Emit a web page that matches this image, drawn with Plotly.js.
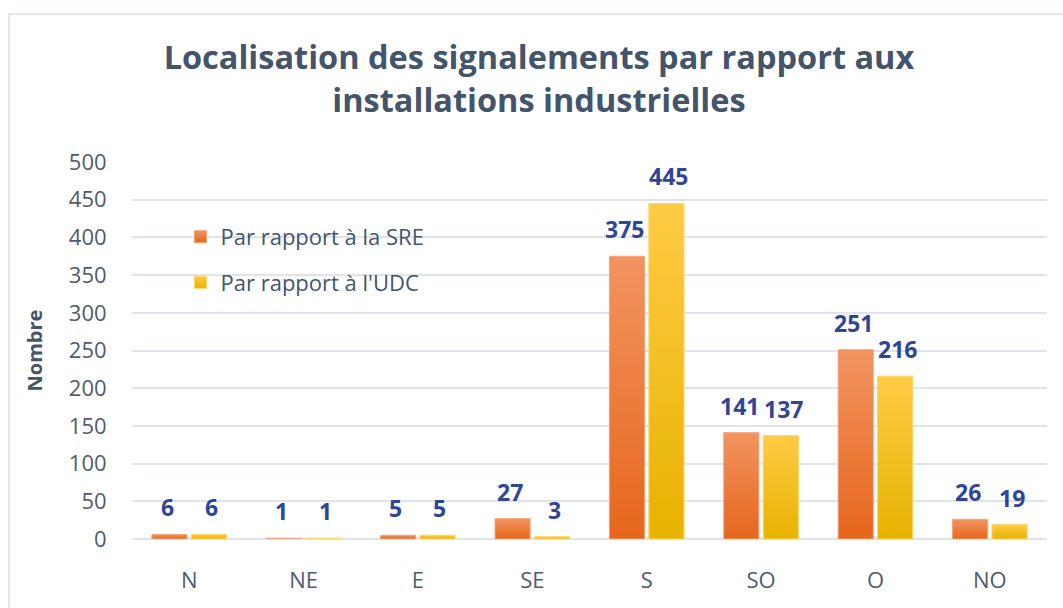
<!DOCTYPE html>
<html>
<head>
<meta charset="utf-8">
<script src="https://cdn.plot.ly/plotly-3.0.1.min.js"></script>
<style>
  html, body { margin: 0; padding: 0; background: #fff; }
  #wrap { position: relative; width: 1063px; height: 608px; overflow: hidden; }
  #chart { width: 1063px; height: 608px; }
  #frame { position: absolute; left: 8px; top: 13px; width: 1100px; height: 700px;
           border: 2px solid #E3E7EE; pointer-events: none; }
</style>
</head>
<body>
<div id="wrap">
  <div id="chart"></div>
  <div id="frame"></div>
</div>
<script>
// Localisation des signalements — bar chart by direction
const directions = ['N', 'NE', 'E', 'SE', 'S', 'SO', 'O', 'NO'];
const sreCounts = [6, 1, 5, 27, 375, 141, 251, 26];
const udcCounts = [6, 1, 5, 3, 445, 137, 216, 19];
const seriesNames = ['Par rapport à la SRE', "Par rapport à l'UDC"];

const FONT = '"Open Sans", "Noto Sans", sans-serif';
const SLATE = '#44546A';
const LABEL = '#2F4596';
const TICK = '#4F5B6E';
// top / bottom colours of the bar fills (Excel-style vertical gradient)
const GRAD = [['#F29460', '#E6661C'], ['#FFCB45', '#E8B200']];

const traces = [
  { x: directions, y: sreCounts, type: 'bar', name: seriesNames[0], legendgroup: 'a',
    marker: { color: '#EE7B3A', line: { color: '#F3A27A', width: 1 } },
    hoverinfo: 'x+y+name' },
  { x: directions, y: udcCounts, type: 'bar', name: seriesNames[1], legendgroup: 'b',
    marker: { color: '#FFC21F', line: { color: '#FFD466', width: 1 } },
    hoverinfo: 'x+y+name' },
];

// value labels above each bar
const annotations = [];
[sreCounts, udcCounts].forEach((vals, k) => {
  vals.forEach((v, i) => {
    annotations.push({
      x: directions[i], y: v, text: String(v), showarrow: false,
      xanchor: 'center', yanchor: 'bottom', xshift: k === 0 ? -22 : 22, yshift: 9,
      font: { family: FONT, size: 23, color: LABEL, weight: 'bold' },
    });
  });
});

const layout = {
  width: 1063, height: 608,
  margin: { l: 132, r: 16, t: 162, b: 69 },
  paper_bgcolor: '#fff', plot_bgcolor: '#fff',
  font: { family: FONT, color: SLATE },
  title: {
    text: '<b>Localisation des signalements par rapport aux<br>installations industrielles</b>',
    font: { family: FONT, size: 32.5, color: SLATE },
    x: 0.507, xanchor: 'center', y: 0.886, yanchor: 'top',
  },
  barmode: 'group', bargap: 0.31, bargroupgap: 0.11,
  xaxis: {
    type: 'category', showgrid: false, showline: false,
    ticks: 'outside', ticklen: 22, tickcolor: 'rgba(0,0,0,0)',
    tickfont: { family: FONT, size: 22, color: TICK },
  },
  yaxis: {
    range: [0, 500], dtick: 50, showline: false,
    ticks: 'outside', ticklen: 20, tickcolor: 'rgba(0,0,0,0)',
    gridcolor: '#DFE3EA', gridwidth: 1.5, zerolinecolor: '#DFE3EA', zerolinewidth: 1.5,
    tickfont: { family: FONT, size: 22, color: TICK },
    title: { text: '<b>Nombre</b>', font: { family: FONT, size: 20, color: SLATE }, standoff: 20 },
  },
  legend: {
    x: 0.053, y: 0.857, xanchor: 'left', yanchor: 'top',
    bgcolor: 'rgba(0,0,0,0)', traceorder: 'grouped', tracegroupgap: 14,
    font: { family: FONT, size: 22, color: SLATE },
  },
  annotations: annotations,
};

function applyGradients() {
  const svg = document.querySelector('#chart .main-svg');
  const ns = 'http://www.w3.org/2000/svg';
  let defs = svg.querySelector('defs');
  if (!defs) { defs = document.createElementNS(ns, 'defs'); svg.prepend(defs); }
  GRAD.forEach(([top, bot], k) => {
    const g = document.createElementNS(ns, 'linearGradient');
    g.setAttribute('id', 'barGrad' + k);
    g.setAttribute('x1', '0'); g.setAttribute('y1', '0');
    g.setAttribute('x2', '0'); g.setAttribute('y2', '1');
    [['0%', top], ['100%', bot]].forEach(([off, c]) => {
      const s = document.createElementNS(ns, 'stop');
      s.setAttribute('offset', off); s.setAttribute('stop-color', c);
      g.appendChild(s);
    });
    defs.appendChild(g);
  });
  document.querySelectorAll('#chart .barlayer .trace').forEach((tr, k) => {
    tr.querySelectorAll('path').forEach(p => { p.style.fill = 'url(#barGrad' + k + ')'; });
  });
  document.querySelectorAll('#chart .legend .traces').forEach((tr, k) => {
    tr.querySelectorAll('.legendpoints path').forEach(p => { p.style.fill = 'url(#barGrad' + k + ')'; });
  });
}

Plotly.newPlot('chart', traces, layout, { displayModeBar: false, responsive: false })
  .then(applyGradients);
</script>
</body>
</html>
